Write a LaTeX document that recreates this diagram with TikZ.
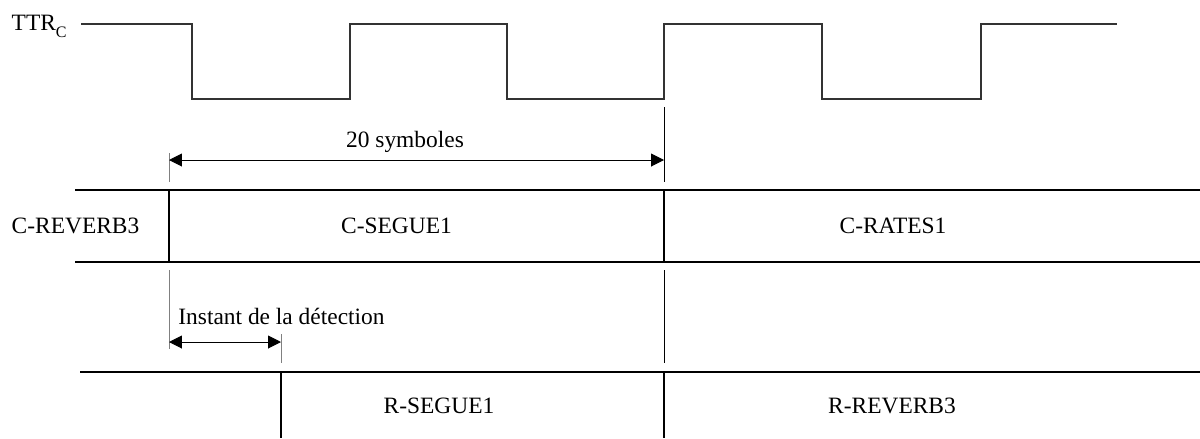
\documentclass[tikz,border=0pt]{standalone}
\usepackage{fontspec}
\setmainfont{Liberation Serif}
\usetikzlibrary{arrows.meta}
\tikzset{
  lbl/.style={inner sep=0pt, font=\fontsize{12}{14}\selectfont},
  row/.style={line width=0.7pt},
  wave/.style={line width=0.55pt, black!80},
  guide/.style={line width=0.45pt, black!50},
  guidedark/.style={line width=0.45pt, black},
  span/.style={line width=0.5pt, {Triangle[length=6.6pt,width=6.6pt]}-{Triangle[length=6.6pt,width=6.6pt]}}
}
\begin{document}
\begin{tikzpicture}[x=0.018cm, y=-0.018cm]
  \useasboundingbox (0,0) rectangle (1200,438);
  \draw
    (67,30) node[lbl, anchor=base east] (ttr) {TTR\raisebox{-3.8pt}{\fontsize{8.2}{9}\selectfont C}}
    (405,147) node[lbl, anchor=base] (sym) {20 symboles}
    (75.5,233) node[lbl, anchor=base] (creverb) {C-REVERB3}
    (396.5,233) node[lbl, anchor=base] (csegue) {C-SEGUE1}
    (893,233) node[lbl, anchor=base] (crates) {C-RATES1}
    (178,324) node[lbl, anchor=base west] (det) {Instant de la détection}
    (439,413) node[lbl, anchor=base] (rsegue) {R-SEGUE1}
    (892,413) node[lbl, anchor=base] (rreverb) {R-REVERB3};
  \coordinate (w0) at (81,24);
  \coordinate (w1) at (1117,24);
  \coordinate (ctl) at (75,190);
  \coordinate (ctr) at (1200,190);
  \coordinate (cbl) at (75,262);
  \coordinate (cbr) at (1200,262);
  \coordinate (rl) at (80,372);
  \coordinate (rr) at (1200,372);
  \coordinate (ca) at (169,190);
  \coordinate (cb) at (169,262);
  \coordinate (cc) at (664,190);
  \coordinate (cd) at (664,262);
  \coordinate (ra) at (281,372);
  \coordinate (rb) at (281,438);
  \coordinate (rc) at (664,372);
  \coordinate (rd) at (664,438);
  \coordinate (g0) at (169,153);
  \coordinate (g1) at (169,182);
  \coordinate (g2) at (664,107);
  \coordinate (g3) at (664,182);
  \coordinate (g4) at (169,270);
  \coordinate (g5) at (169,349);
  \coordinate (g6) at (281,334);
  \coordinate (g7) at (281,363);
  \coordinate (g8) at (664,270);
  \coordinate (g9) at (664,363);
  \coordinate (s0) at (169,160);
  \coordinate (s1) at (664,160);
  \coordinate (d0) at (169,342);
  \coordinate (d1) at (281,342);
  \draw[wave] (w0) -| (192,99) -| (350,24) -| (507,99) -| (664,24)
    -| (822,99) -| (981,24) -- (w1);
  \begin{scope}[row]
    \draw (ctl) to (ctr);
    \draw (cbl) to (cbr);
    \draw (rl) to (rr);
    \draw (ca) to (cb);
    \draw (cc) to (cd);
    \draw (ra) to (rb);
    \draw (rc) to (rd);
  \end{scope}
  \begin{scope}[guide]
    \draw (g0) to (g1);
    \draw (g4) to (g5);
    \draw (g6) to (g7);
  \end{scope}
  \begin{scope}[guidedark]
    \draw (g2) to (g3);
    \draw (g8) to (g9);
  \end{scope}
  \draw[span] (s0) to (s1);
  \draw[span] (d0) to (d1);
\end{tikzpicture}
\end{document}
